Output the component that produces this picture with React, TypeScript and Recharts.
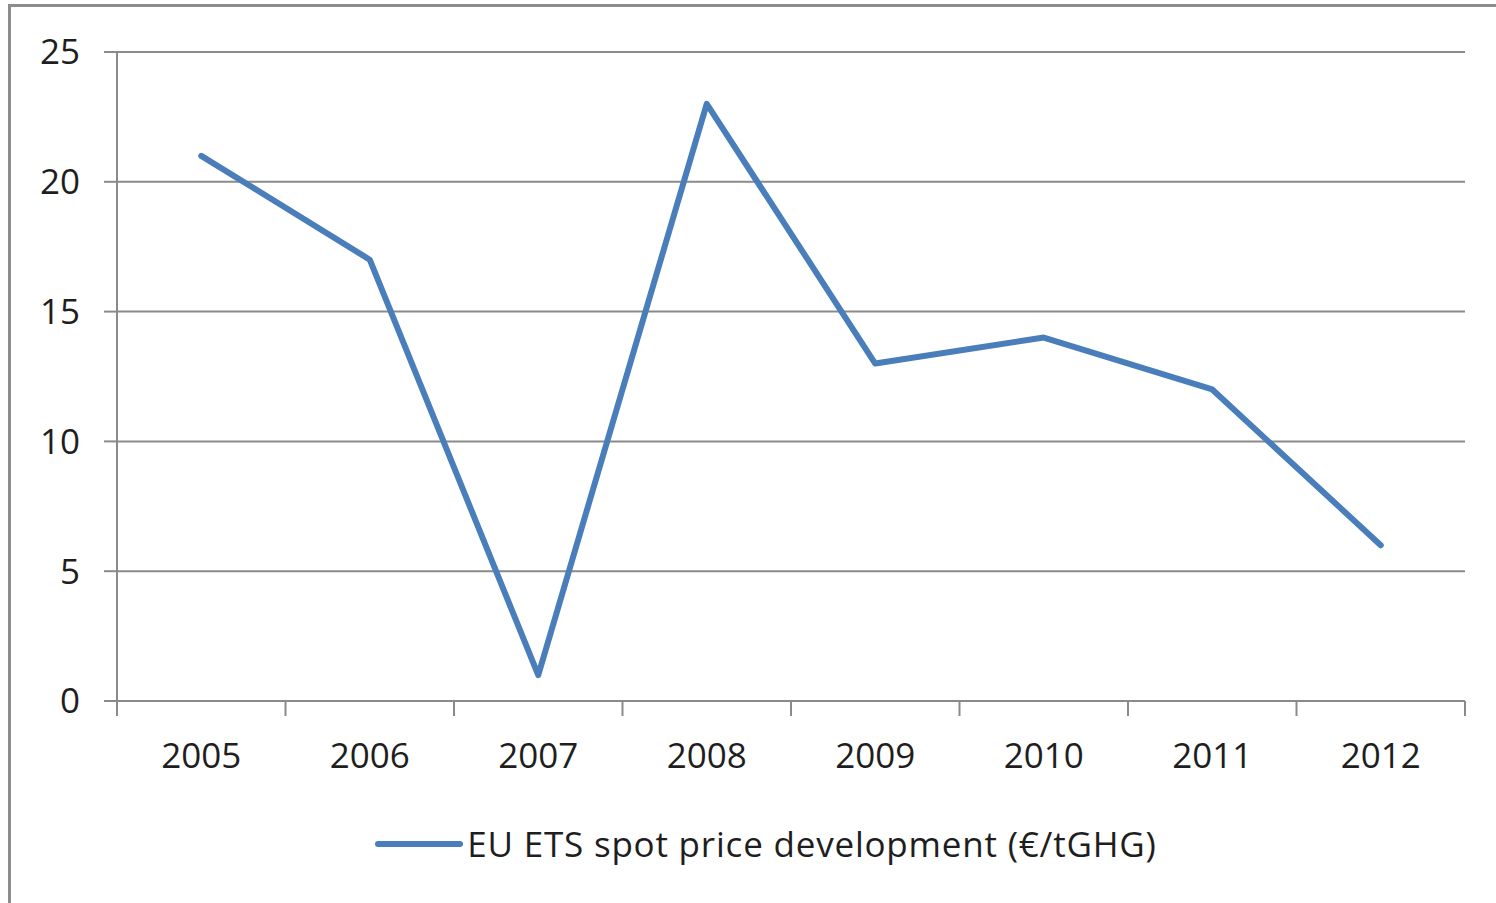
import { LineChart, Line, XAxis, YAxis, CartesianGrid, Legend } from 'recharts';

const years = ['2005', '2006', '2007', '2008', '2009', '2010', '2011', '2012'];
const spotPrice = [21, 17, 1, 23, 13, 14, 12, 6];
const yTicks = [0, 5, 10, 15, 20, 25];
const seriesName = 'EU ETS spot price development (€/tGHG)';

const data = years.map((year, i) => ({ year, price: spotPrice[i] }));

const W = 1496;
const H = 903;
const LEFT = 117;
const RIGHT = 31;
const BAND = (W - LEFT - RIGHT) / years.length;
const FONT = '"Open Sans", sans-serif';
const GRID = '#8a8a8a';
const BLUE = '#4a7ebb';

function YearTick(props: any) {
  const { x, y, payload, index } = props;
  const left = x - BAND / 2;
  return (
    <g>
      <line x1={left} y1={y} x2={left} y2={y + 15} stroke={GRID} strokeWidth={2} />
      {index === years.length - 1 && (
        <line x1={x + BAND / 2} y1={y} x2={x + BAND / 2} y2={y + 15} stroke={GRID} strokeWidth={2} />
      )}
      <text x={x} y={y + 67} textAnchor="middle" fontFamily={FONT} fontSize={35} fill="#1e1e1e">
        {payload.value}
      </text>
    </g>
  );
}

function LegendBox() {
  return (
    <div
      style={{
        height: 60,
        display: 'flex',
        alignItems: 'center',
        justifyContent: 'center',
        paddingLeft: 66,
        paddingBottom: 3,
        boxSizing: 'border-box',
      }}
    >
      <svg width={90} height={20} style={{ marginRight: 3 }}>
        <line x1={4} y1={10} x2={86} y2={10} stroke={BLUE} strokeWidth={6} strokeLinecap="round" />
      </svg>
      <span style={{ fontFamily: FONT, fontSize: 35, letterSpacing: 0.8, color: '#1e1e1e' }}>{seriesName}</span>
    </div>
  );
}

export default function App() {
  return (
    <div style={{ position: 'absolute', left: 0, top: 0, width: W, height: H, background: '#fff' }}>
      <div
        style={{
          position: 'absolute',
          left: 8,
          top: 4,
          width: W,
          height: H,
          borderLeft: '3px solid #8c8c8c',
          borderTop: '3px solid #8c8c8c',
        }}
      />
      <LineChart
        width={W}
        height={H}
        data={data}
        margin={{ top: 52, right: RIGHT, left: 0, bottom: 28 }}
        style={{ position: 'absolute', left: 0, top: 0 }}
      >
        <CartesianGrid vertical={false} stroke={GRID} strokeWidth={2} />
        <XAxis
          dataKey="year"
          scale="band"
          height={114}
          tickSize={0}
          tickMargin={0}
          tickLine={false}
          axisLine={{ stroke: GRID, strokeWidth: 2 }}
          tick={<YearTick />}
          interval={0}
        />
        <YAxis
          width={LEFT}
          domain={[0, 25]}
          ticks={yTicks}
          tickSize={13}
          tickMargin={24}
          axisLine={{ stroke: GRID, strokeWidth: 2 }}
          tickLine={{ stroke: GRID, strokeWidth: 2 }}
          tick={{ fontFamily: FONT, fontSize: 35, fill: '#1e1e1e' }}
        />
        <Legend verticalAlign="bottom" content={<LegendBox />} />
        <Line
          dataKey="price"
          name={seriesName}
          stroke={BLUE}
          strokeWidth={6}
          strokeLinejoin="round"
          strokeLinecap="round"
          dot={false}
          type="linear"
          isAnimationActive={false}
        />
      </LineChart>
    </div>
  );
}
